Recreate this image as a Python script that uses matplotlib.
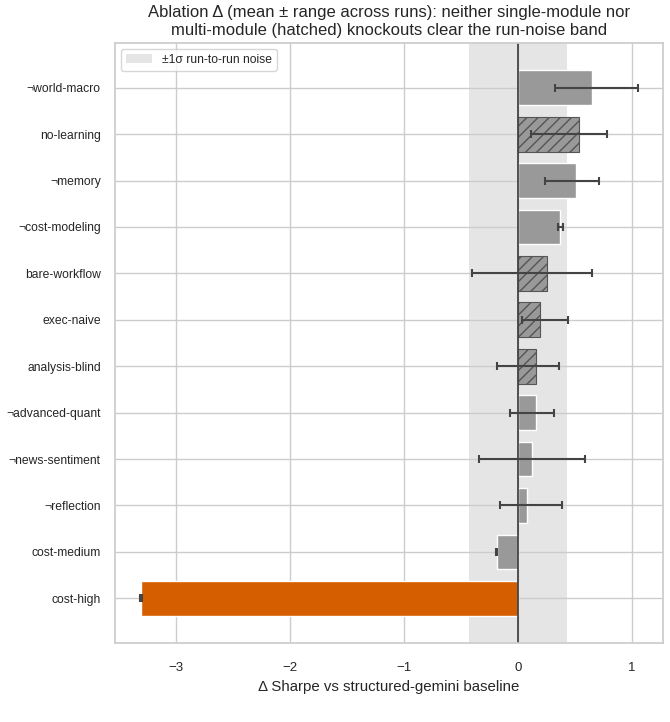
import numpy as np
import matplotlib
matplotlib.use('Agg')
import matplotlib.pyplot as plt
import seaborn as sns

sns.set_theme(style='whitegrid')
plt.rcParams['font.family'] = ['Liberation Sans', 'DejaVu Sans']

# ablation results (top to bottom)
labels = ['¬world-macro', 'no-learning', '¬memory', '¬cost-modeling', 'bare-workflow',
          'exec-naive', 'analysis-blind', '¬advanced-quant', '¬news-sentiment',
          '¬reflection', 'cost-medium', 'cost-high']
mean = [0.65, 0.535, 0.515, 0.372, 0.26, 0.193, 0.164, 0.161, 0.126, 0.084, -0.182, -3.31]
lo = [0.33, 0.117, 0.24, 0.351, -0.399, 0.038, -0.185, -0.064, -0.337, -0.159, -0.19, -3.32]
hi = [1.054, 0.784, 0.717, 0.395, 0.655, 0.441, 0.363, 0.316, 0.594, 0.387, -0.178, -3.30]
multi = [False, True, False, False, True, True, True, False, False, False, False, False]
noise = 0.43

y = np.arange(len(labels))
mean = np.array(mean)
xerr = np.array([mean - np.array(lo), np.array(hi) - mean])

fig = plt.figure(figsize=(6.7, 7.22), dpi=100)
ax = fig.add_axes([0.1712, 0.1094, 0.8184, 0.831])

ax.axvspan(-noise, noise, color='grey', alpha=0.2, lw=0, label='±1σ run-to-run noise', zorder=0.5)

for i in range(len(labels)):
    c = '#d55e00' if mean[i] < -1 else '#999999'
    if multi[i]:
        ax.barh(y[i], mean[i], height=0.75, color=c, edgecolor='#555555', hatch='///', lw=0.8, zorder=2)
    else:
        ax.barh(y[i], mean[i], height=0.75, color=c, edgecolor='white', lw=1, zorder=2)

ax.errorbar(mean, y, xerr=xerr, fmt='none', ecolor='#444444', elinewidth=1.5, capsize=3, capthick=1.5, zorder=3)
ax.axvline(0, color='#444444', lw=1.3, zorder=2.5)

ax.set_yticks(y)
ax.set_yticklabels(labels, fontsize=8.7)
ax.invert_yaxis()
ax.set_xlim(-3.541, 1.277)
ax.tick_params(axis='y', pad=4)
ax.tick_params(axis='x', labelsize=9.5, pad=8)
ax.set_xlabel('Δ Sharpe vs structured-gemini baseline', fontsize=10.8, labelpad=4)
ax.set_title('Ablation Δ (mean ± range across runs): neither single-module nor\n'
             'multi-module (hatched) knockouts clear the run-noise band', fontsize=12)
ax.legend(loc='upper left', fontsize=8.7, handlelength=2.2)

fig.savefig('out.png', dpi=100)
